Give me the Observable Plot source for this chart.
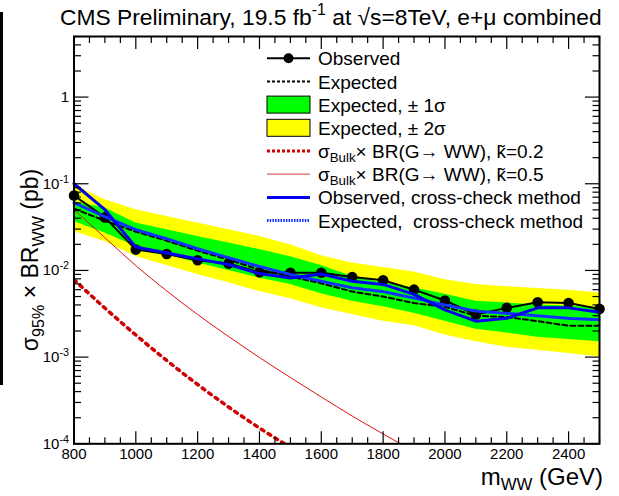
<!DOCTYPE html>
<html><head><meta charset="utf-8">
<script src="https://cdn.jsdelivr.net/npm/d3@7"></script>
<script src="https://cdn.jsdelivr.net/npm/@observablehq/plot@0.6"></script>
<style>
body{margin:0;background:#fff}
#chart{position:relative;width:619px;height:496px}
</style>
</head><body><div id="chart"></div>
<script>
// ---- data ----
const masses = [800,900,1000,1100,1200,1300,1400,1500,1600,1700,1800,1900,2000,2100,2200,2300,2400,2500];
const observed = [0.0733,0.0409,0.0174,0.0155,0.0131,0.0120,0.0095,0.0094,0.0094,0.0084,0.0077,0.0060,0.0045,0.0031,0.0037,0.0043,0.0042,0.0036];
const expected = [0.0515,0.0375,0.0280,0.0220,0.0169,0.0133,0.0102,0.0085,0.0071,0.0057,0.0050,0.0042,0.0038,0.0030,0.0029,0.0026,0.0023,0.0023];
const expPlus1 = [0.0625,0.0525,0.0352,0.0295,0.0247,0.0207,0.0174,0.0144,0.0114,0.0085,0.0072,0.0063,0.0053,0.0044,0.0042,0.0040,0.0039,0.0037];
const expMinus1 = [0.0368,0.0270,0.0190,0.0152,0.0122,0.0100,0.0082,0.0069,0.0054,0.0044,0.0038,0.0032,0.0026,0.0021,0.0019,0.0017,0.0016,0.0015];
const expPlus2 = [0.0974,0.0655,0.0501,0.0420,0.0352,0.0295,0.0247,0.0198,0.0148,0.0122,0.0108,0.0096,0.0078,0.0069,0.0065,0.0062,0.0059,0.0055];
const expMinus2 = [0.0282,0.0216,0.0145,0.0114,0.0090,0.0072,0.0057,0.0047,0.0037,0.0031,0.0026,0.0023,0.0018,0.0015,0.0013,0.0012,0.0011,0.0010];
const obsCross = [0.100,0.0502,0.0186,0.0159,0.0136,0.0117,0.0092,0.0082,0.0091,0.0075,0.0069,0.0053,0.0035,0.0026,0.0028,0.0037,0.0037,0.0033];
const expCross = [0.0604,0.0417,0.0295,0.0232,0.0178,0.0140,0.0111,0.0090,0.0075,0.0063,0.0057,0.0048,0.0040,0.0034,0.0032,0.0030,0.0028,0.0027];
const bulk02Masses = [800,900,1000,1100,1200,1300,1400,1500];
const bulk02 = [0.00783,0.00368,0.00180,0.000914,0.000483,0.000266,0.000152,0.0000910];
const bulk05Masses = [800,900,1000,1100,1200,1300,1400,1500,1600,1700,1800,1900];
const bulk05 = [0.0502,0.0239,0.01135,0.00581,0.00310,0.00173,0.000989,0.000582,0.000347,0.000209,0.000130,0.0000817];
const xMajorTicks = [800,1000,1200,1400,1600,1800,2000,2200,2400];
const yMajorTicks = [0.0001,0.001,0.01,0.1,1];
const yTickLabels = ["10^-4","10^-3","10^-2","10^-1","1"];

// ---- tables ----
const rows = masses.map((m,i)=>({m, obs:observed[i], exp:expected[i], p1:expPlus1[i], m1:expMinus1[i], p2:expPlus2[i], m2:expMinus2[i], oc:obsCross[i], ec:expCross[i]}));
const b02 = bulk02Masses.map((m,i)=>({m, v:bulk02[i]}));
const b05 = bulk05Masses.map((m,i)=>({m, v:bulk05[i]}));
const xMinor = d3.range(800, 2501, 50).filter(v => !xMajorTicks.includes(v));
const yMinor = [];
for (let e = -4; e <= 0; e++) for (let k = 2; k <= 9; k++) { const v = k*Math.pow(10,e); if (v <= 5) yMinor.push(v); }
const yFmt = d => yTickLabels[yMajorTicks.indexOf(d)];

const font = '"Liberation Sans", Arial, Helvetica, sans-serif';
const tickStroke = 1.2;

const plot = Plot.plot({
  width: 619, height: 496,
  marginLeft: 73.5, marginRight: 20, marginTop: 36, marginBottom: 52.7,
  style: {fontFamily: font, background: "white"},
  x: {domain: [800, 2500], label: null},
  y: {type: "log", domain: [1e-4, 5], label: null},
  marks: [
    Plot.areaY(rows, {x: "m", y1: "m2", y2: "p2", fill: "#ffff00"}),
    Plot.areaY(rows, {x: "m", y1: "m1", y2: "p1", fill: "#00ff00"}),
    Plot.line(b02, {x: "m", y: "v", stroke: "#d00000", strokeWidth: 3.5, strokeDasharray: "3,5", curve: "monotone-x", clip: true}),
    Plot.line(b05, {x: "m", y: "v", stroke: "#e01010", strokeWidth: 1, curve: "monotone-x", clip: true}),
    Plot.line(rows, {x: "m", y: "exp", stroke: "black", strokeWidth: 2, strokeDasharray: "5,3"}),
    Plot.line(rows, {x: "m", y: "obs", stroke: "black", strokeWidth: 2}),
    Plot.dot(rows, {x: "m", y: "obs", r: 5.3, fill: "black"}),
    Plot.line(rows, {x: "m", y: "ec", stroke: "#1030ff", strokeWidth: 3, strokeDasharray: "2,1.5"}),
    Plot.line(rows, {x: "m", y: "oc", stroke: "#0000ee", strokeWidth: 3}),
    // axes: ticks inside the frame on all four sides
    Plot.axisX({ticks: xMajorTicks, anchor: "bottom", tickSize: -12, strokeWidth: tickStroke, tickFormat: () => "", label: null}),
    Plot.axisX({ticks: xMinor, anchor: "bottom", tickSize: -6, strokeWidth: tickStroke, tickFormat: () => "", label: null}),
    Plot.axisX({ticks: xMajorTicks, anchor: "top", tickSize: -12, strokeWidth: tickStroke, tickFormat: () => "", label: null}),
    Plot.axisX({ticks: xMinor, anchor: "top", tickSize: -6, strokeWidth: tickStroke, tickFormat: () => "", label: null}),
    Plot.axisX({ticks: xMajorTicks, anchor: "bottom", tickSize: 0, tickPadding: 5, fontSize: 15, tickFormat: d => String(d), label: null}),
    Plot.axisY({ticks: yMajorTicks, anchor: "left", tickSize: -15, strokeWidth: tickStroke, tickFormat: () => "", label: null}),
    Plot.axisY({ticks: yMinor, anchor: "left", tickSize: -7.5, strokeWidth: tickStroke, tickFormat: () => "", label: null}),
    Plot.axisY({ticks: yMajorTicks, anchor: "right", tickSize: -15, strokeWidth: tickStroke, tickFormat: () => "", label: null}),
    Plot.axisY({ticks: yMinor, anchor: "right", tickSize: -7.5, strokeWidth: tickStroke, tickFormat: () => "", label: null}),
    Plot.axisY({ticks: yMajorTicks, anchor: "left", tickSize: 0, tickPadding: 5, fontSize: 15, tickFormat: yFmt, label: null}),
    Plot.frame({stroke: "black", strokeWidth: 2})
  ]
});
document.getElementById("chart").appendChild(plot);

const svg = d3.select(plot);
// superscript exponents on y tick labels
svg.selectAll('g[aria-label="y-axis tick label"] text').each(function(){
  const t = this.textContent;
  if (t.includes("^")) {
    const [b, e] = t.split("^");
    this.textContent = b;
    d3.select(this).append("tspan").attr("dy", "-0.55em").attr("font-size", "0.72em").text(e);
  }
});

function rich(textSel, parts, base, subShift = 0.28) {
  let shift = 0;
  for (const p of parts) {
    const target = p.sub ? subShift : p.sup ? -0.45 : 0;
    const ts = textSel.append("tspan").text(p.t);
    if (target !== shift) ts.attr("dy", ((target - shift) * base) + "px");
    if (p.sub || p.sup) ts.attr("font-size", (base * 0.7) + "px");
    shift = target;
  }
}

// title
const title = svg.append("text").attr("x", 60).attr("y", 25).attr("text-anchor", "start").attr("font-size", "22.8px").attr("fill", "black").attr("font-family", font);
rich(title, [{t: "CMS Preliminary, 19.5 fb"}, {t: "-1", sup: true}, {t: " at \u221As=8TeV, e+\u03BC combined"}], 22.8);

// x axis title
const xt = svg.append("text").attr("x", 603).attr("y", 485).attr("text-anchor", "end").attr("font-size", "24px").attr("font-family", font);
rich(xt, [{t: "m"}, {t: "WW", sub: true}, {t: " (GeV)"}], 24, 0.22);

// y axis title
const yt = svg.append("text").attr("transform", "translate(38,260) rotate(-90)").attr("text-anchor", "middle").attr("font-size", "23px").attr("font-family", font);
rich(yt, [{t: "\u03C3"}, {t: "95%", sub: true}, {t: " \u00D7 BR"}, {t: "WW", sub: true}, {t: " (pb)"}], 23);

// left-edge bar present in the reference image
svg.append("rect").attr("x", 0).attr("y", 12).attr("width", 3).attr("height", 373).attr("fill", "black");

// legend
const legendRows = [58.3, 81.5, 104.6, 127.8, 151, 174.2, 197.4, 220.5];
const lx0 = 267, lx1 = 310, ltx = 318, lfs = 19;
const leg = svg.append("g").attr("font-family", font).attr("font-size", lfs + "px").attr("text-anchor", "start");
const legendItems = [
  {kind: "obs", parts: [{t: "Observed"}]},
  {kind: "exp", parts: [{t: "Expected"}]},
  {kind: "box", fill: "#00ff00", parts: [{t: "Expected, \u00B1 1\u03C3"}]},
  {kind: "box", fill: "#ffff00", parts: [{t: "Expected, \u00B1 2\u03C3"}]},
  {kind: "b02", parts: [{t: "\u03C3"}, {t: "Bulk", sub: true}, {t: "\u00D7 BR(G\u2192 WW), k\u0303=0.2"}]},
  {kind: "b05", parts: [{t: "\u03C3"}, {t: "Bulk", sub: true}, {t: "\u00D7 BR(G\u2192 WW), k\u0303=0.5"}]},
  {kind: "oc", parts: [{t: "Observed, cross-check method"}]},
  {kind: "ec", parts: [{t: "Expected,  cross-check method"}]}
];
legendItems.forEach((it, i) => {
  const y = legendRows[i];
  const line = (attrs) => { const l = leg.append("line").attr("x1", lx0).attr("x2", lx1).attr("y1", y).attr("y2", y); for (const k in attrs) l.attr(k, attrs[k]); };
  if (it.kind === "obs") { line({stroke: "black", "stroke-width": 2}); leg.append("circle").attr("cx", (lx0+lx1)/2).attr("cy", y).attr("r", 5).attr("fill", "black"); }
  if (it.kind === "exp") line({stroke: "black", "stroke-width": 2, "stroke-dasharray": "3,2"});
  if (it.kind === "box") leg.append("rect").attr("x", lx0).attr("y", y - 8.5).attr("width", lx1 - lx0).attr("height", 17).attr("fill", it.fill).attr("stroke", "black").attr("stroke-width", 1);
  if (it.kind === "b02") line({stroke: "#d00000", "stroke-width": 3, "stroke-dasharray": "3,2"});
  if (it.kind === "b05") line({stroke: "#e06060", "stroke-width": 1.2});
  if (it.kind === "oc") line({stroke: "#0000ee", "stroke-width": 3});
  if (it.kind === "ec") line({stroke: "#1030ff", "stroke-width": 3, "stroke-dasharray": "1.5,1.2"});
  const tx = leg.append("text").attr("x", ltx).attr("y", y + 7).attr("text-anchor", "start").attr("xml:space", "preserve");
  rich(tx, it.parts, lfs, 0.2);
});
</script></body></html>
